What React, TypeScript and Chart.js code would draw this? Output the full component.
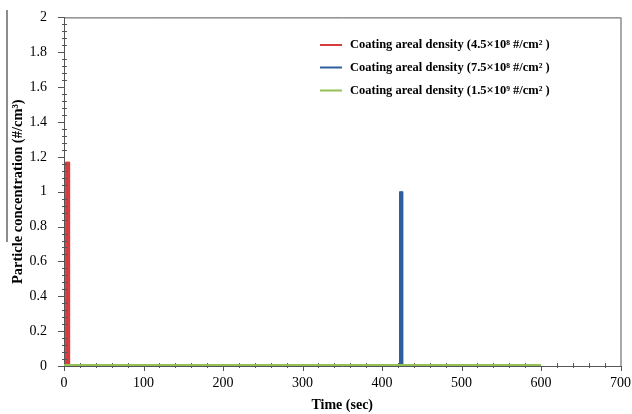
import React, { useEffect, useRef } from "react";
import { Chart, registerables } from "chart.js";

Chart.register(...registerables);

const seriesLabels = [
  "Coating areal density (4.5×10⁸ #/cm² )",
  "Coating areal density (7.5×10⁸ #/cm² )",
  "Coating areal density (1.5×10⁹ #/cm² )",
];
const seriesColors = ["#D63C3E", "#2F5E9C", "#93C153"];
const redTimes = [2, 2, 7, 7];
const redValues = [0, 1.17, 1.17, 0];
const blueTimes = [422, 422, 426, 426];
const blueValues = [0, 1.0, 1.0, 0];
const greenTimes = [0, 600];
const greenValues = [0, 0];
const xTicks = [0, 100, 200, 300, 400, 500, 600, 700];
const yTicks = [0, 0.2, 0.4, 0.6, 0.8, 1, 1.2, 1.4, 1.6, 1.8, 2];

const SERIF = "'Liberation Serif', 'Times New Roman', serif";

const toPts = (xs: number[], ys: number[]) => xs.map((x, i) => ({ x, y: ys[i] }));

const decorPlugin = {
  id: "decor",
  afterDraw(chart: any) {
    const ctx = chart.ctx;
    const { left, right, top, bottom } = chart.chartArea;
    const xs = chart.scales.x;
    const ys = chart.scales.y;
    ctx.save();
    ctx.strokeStyle = "#555";
    ctx.lineWidth = 1;
    // frame top & right
    ctx.beginPath();
    ctx.moveTo(left, top + 0.5);
    ctx.lineTo(right, top + 0.5);
    ctx.moveTo(right + 0.5, top);
    ctx.lineTo(right + 0.5, bottom);
    ctx.stroke();
    // x ticks
    ctx.beginPath();
    for (let v = 0; v <= 700; v += 20) {
      const px = Math.round(xs.getPixelForValue(v)) + 0.5;
      const major = v % 100 === 0;
      ctx.moveTo(px, bottom + (major ? 5 : 2));
      ctx.lineTo(px, bottom - (major ? 0 : 3));
    }
    // y ticks
    for (let i = 0; i <= 50; i++) {
      const v = i * 0.04;
      const py = Math.round(ys.getPixelForValue(v)) + 0.5;
      const major = i % 5 === 0;
      ctx.moveTo(left - (major ? 6 : 2), py);
      ctx.lineTo(left + (major ? 0 : 3), py);
    }
    ctx.stroke();
    // green baseline on top of axis
    ctx.strokeStyle = seriesColors[2];
    ctx.lineWidth = 2;
    ctx.beginPath();
    ctx.moveTo(xs.getPixelForValue(greenTimes[0]), ys.getPixelForValue(greenValues[0]) - 1);
    ctx.lineTo(xs.getPixelForValue(greenTimes[1]), ys.getPixelForValue(greenValues[1]) - 1);
    ctx.stroke();
    // stray rule line near y title
    ctx.strokeStyle = "#666";
    ctx.lineWidth = 1.5;
    ctx.beginPath();
    ctx.moveTo(7, 10);
    ctx.lineTo(7, 242);
    ctx.stroke();
    // legend
    const rowsY = [45, 67.5, 90.5];
    ctx.font = `bold 12.5px ${SERIF}`;
    ctx.textBaseline = "middle";
    ctx.fillStyle = "#000";
    seriesLabels.forEach((lab, i) => {
      ctx.strokeStyle = seriesColors[i];
      ctx.lineWidth = 2;
      ctx.beginPath();
      ctx.moveTo(320, rowsY[i]);
      ctx.lineTo(342, rowsY[i]);
      ctx.stroke();
      ctx.fillText(lab, 350, rowsY[i]);
    });
    ctx.restore();
  },
};

export default function App() {
  const ref = useRef<HTMLCanvasElement | null>(null);
  useEffect(() => {
    document.body.style.margin = "0";
    const c = ref.current;
    if (!c) return;
    const chart = new Chart(c, {
      type: "scatter",
      data: {
        datasets: [
          {
            label: seriesLabels[0],
            data: toPts(redTimes, redValues),
            showLine: true,
            borderColor: seriesColors[0],
            backgroundColor: seriesColors[0],
            fill: "origin",
            borderWidth: 1,
            pointRadius: 0,
          },
          {
            label: seriesLabels[1],
            data: toPts(blueTimes, blueValues),
            showLine: true,
            borderColor: seriesColors[1],
            backgroundColor: seriesColors[1],
            fill: "origin",
            borderWidth: 1,
            pointRadius: 0,
          },
        ],
      },
      options: {
        animation: false,
        responsive: false,
        maintainAspectRatio: false,
        layout: { padding: { left: 0, right: 10, top: 17, bottom: 0 } },
        plugins: { legend: { display: false }, tooltip: { enabled: false } },
        scales: {
          x: {
            type: "linear",
            min: 0,
            max: 700,
            afterBuildTicks: (s: any) => {
              s.ticks = xTicks.map((v) => ({ value: v }));
            },
            afterFit: (s: any) => {
              s.height = 48;
            },
            grid: { display: false },
            border: { display: true, color: "#555", width: 1 },
            ticks: {
              padding: 1,
              color: "#000",
              font: { family: SERIF, size: 14 },
              maxRotation: 0,
              autoSkip: false,
            },
            title: {
              display: true,
              text: "Time (sec)",
              color: "#000",
              font: { family: SERIF, size: 14, weight: "bold" },
              padding: { top: 0, bottom: 0 },
            },
          },
          y: {
            type: "linear",
            min: 0,
            max: 2,
            afterBuildTicks: (s: any) => {
              s.ticks = yTicks.map((v) => ({ value: v }));
            },
            afterFit: (s: any) => {
              s.width = 64;
            },
            grid: { display: false },
            border: { display: true, color: "#555", width: 1 },
            ticks: {
              padding: 9,
              color: "#000",
              font: { family: SERIF, size: 14 },
              autoSkip: false,
              callback: (v: any) => String(Math.round(Number(v) * 10) / 10),
            },
            title: {
              display: true,
              text: "Particle concentration (#/cm³)",
              color: "#000",
              font: { family: SERIF, size: 14.5, weight: "bold" },
              padding: { top: 10, bottom: 0 },
            },
          },
        },
      },
      plugins: [decorPlugin],
    } as any);
    return () => chart.destroy();
  }, []);
  return (
    <div style={{ width: 632, height: 414, background: "#fff" }}>
      <canvas ref={ref} width={632} height={414} style={{ display: "block" }} />
    </div>
  );
}
